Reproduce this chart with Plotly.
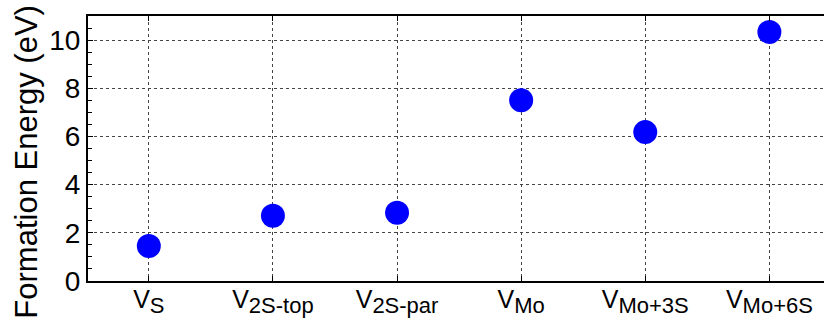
import plotly.graph_objects as go

main_labels = ["V", "V", "V", "V", "V", "V"]
sub_labels = ["S", "2S-top", "2S-par", "Mo", "Mo+3S", "Mo+6S"]
positions = [0, 1, 2, 3, 4, 5]
formation_energy = [1.45, 2.71, 2.83, 7.5, 6.18, 10.34]
y_ticks = [0, 2, 4, 6, 8, 10]

FONT = "Liberation Sans, Arial, sans-serif"

categories = [f"{m}<sub><span style='font-size:22px'>{s}</span></sub>"
              for m, s in zip(main_labels, sub_labels)]

fig = go.Figure()
fig.add_trace(go.Scatter(
    x=positions, y=formation_energy, mode="markers",
    marker=dict(color="#0000FF", size=24, line=dict(width=0)),
    showlegend=False,
))

fig.update_layout(
    width=824, height=327,
    margin=dict(l=88, r=0, t=16, b=46),
    paper_bgcolor="white", plot_bgcolor="white",
    font=dict(family=FONT, color="black"),
    xaxis=dict(
        range=[-0.49, 5.44],
        tickvals=positions, ticktext=categories,
        tickfont=dict(size=25, family=FONT, color="black"),
        ticklabelstandoff=-5,
        ticks="inside", ticklen=5, tickwidth=1, tickcolor="black",
        showline=True, linecolor="black", linewidth=2, mirror="ticks",
        showgrid=True, gridcolor="#444", griddash="dot", gridwidth=1,
        zeroline=False,
    ),
    yaxis=dict(
        range=[0, 11],
        tickvals=y_ticks,
        tickfont=dict(size=28, family=FONT, color="black"),
        ticks="inside", ticklen=5, tickwidth=1, tickcolor="black",
        minor=dict(dtick=0.5, ticks="inside", ticklen=4, tickcolor="black", showgrid=False),
        showline=True, linecolor="black", linewidth=2,
        showgrid=True, gridcolor="#444", griddash="dot", gridwidth=1,
        zeroline=False,
    ),
    annotations=[dict(
        text="Formation Energy (eV)", textangle=-90,
        xref="paper", yref="paper", x=-0.084, y=0.451,
        xanchor="center", yanchor="middle", showarrow=False,
        font=dict(size=31, family=FONT, color="black"),
    )],
)

fig.write_html("out.html")
